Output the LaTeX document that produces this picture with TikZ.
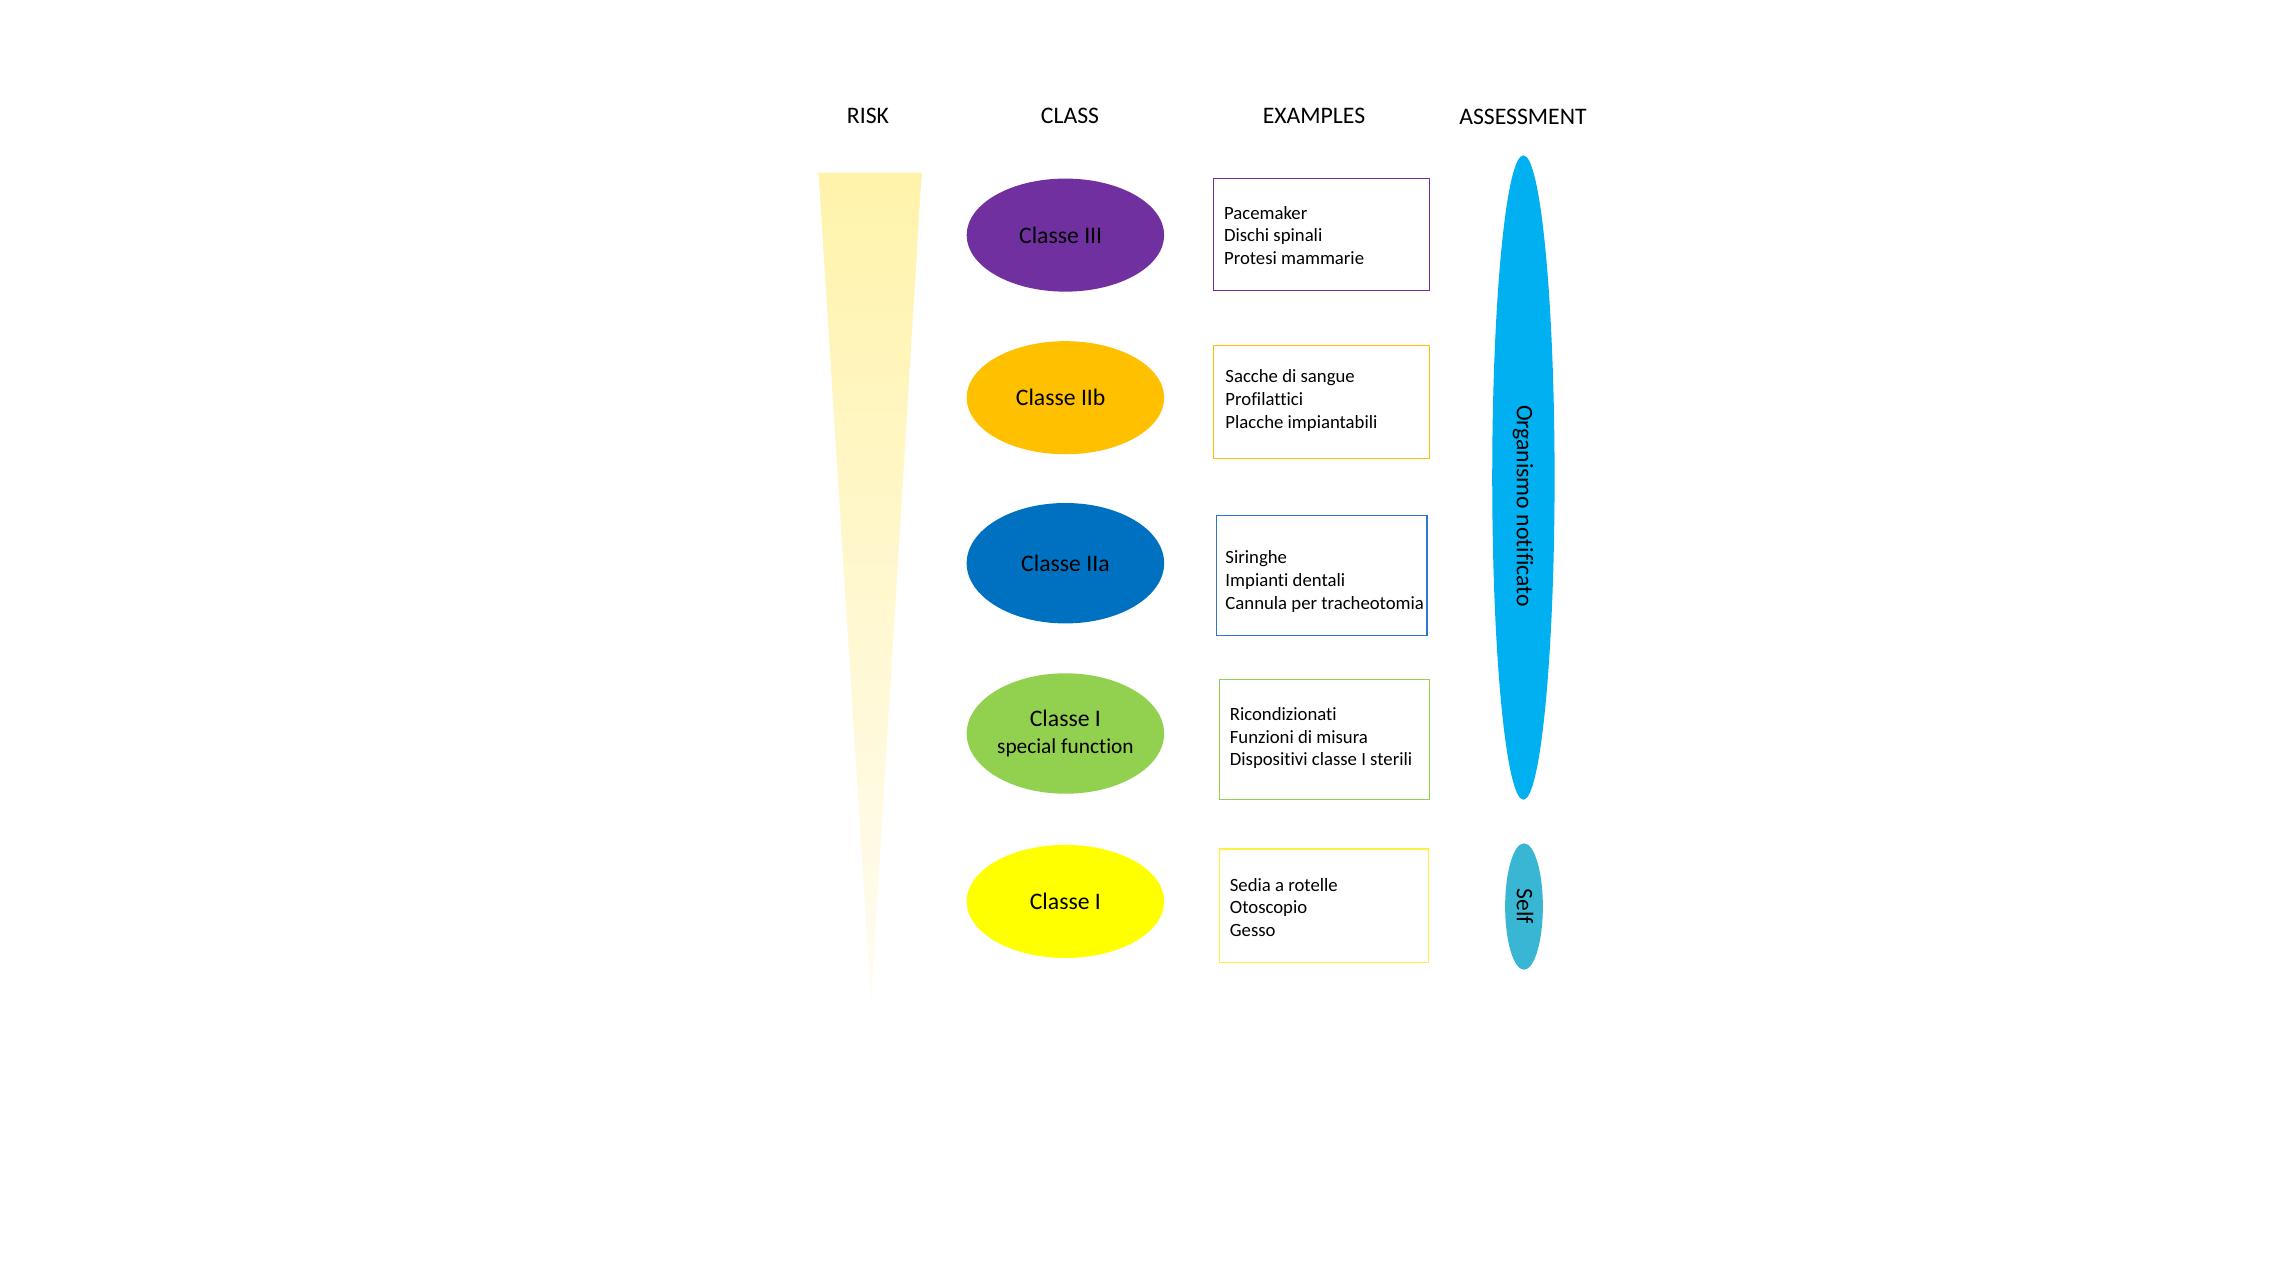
\documentclass[tikz,border=0pt]{standalone}
\usepackage{fontspec}
\setmainfont{Carlito}[Ligatures=NoCommon]
\usetikzlibrary{shapes.geometric}
\definecolor{cpurple}{HTML}{7030A0}
\definecolor{corange}{HTML}{FFC000}
\definecolor{cblue}{HTML}{0070C0}
\definecolor{cgreen}{HTML}{92D050}
\definecolor{cyellow}{HTML}{FFFF00}
\definecolor{cboxblue}{HTML}{2E75D0}
\definecolor{cboxyellow}{HTML}{FFF040}
\definecolor{cnotif}{HTML}{00B0F0}
\definecolor{cself}{HTML}{38B6D3}
\definecolor{risktop}{HTML}{FFF3AB}
\definecolor{riskbot}{HTML}{FFFCF2}
\tikzset{
  header/.style={font=\fontsize{10}{12}\selectfont, inner sep=0pt},
  classell/.style={ellipse, minimum width=83.3pt, minimum height=47.7pt, inner sep=0pt, align=center, font=\fontsize{10}{12}\selectfont},
  exbox/.style={rectangle, draw, line width=0.6pt, inner sep=0pt},
  extext/.style={anchor=west, align=left, inner sep=0pt, font=\fontsize{7.9}{9.5}\selectfont},
  assess/.style={ellipse, inner sep=0pt},
}
\begin{document}
\begin{tikzpicture}[x=0.4218pt, y=-0.4218pt]
\useasboundingbox[fill=white] (0,0) rectangle (2276,1280);

% headers
\node[header] (hrisk) at (868,116) {RISK};
\node[header] (hclass) at (1070,116) {CLASS};
\node[header] (hex) at (1314,116) {EXAMPLES};
\node[header] (hass) at (1523,117) {ASSESSMENT};

% risk triangle
\shade[top color=risktop, bottom color=riskbot] (818.6,172.7) -- (921.7,172.7) -- (871,1002) -- cycle;

% class ellipses
\node[classell, fill=cpurple] (c3) at (1065.4,235.1) {\hspace*{-4pt}Classe III};
\node[classell, fill=corange] (c2b) at (1065.4,397.7) {\hspace*{-4pt}Classe IIb};
\node[classell, fill=cblue, minimum height=50.8pt] (c2a) at (1065.4,563.2) {Classe IIa};
\node[classell, fill=cgreen, minimum height=50.8pt] (c1s) at (1065.4,733.5) {{\fontsize{10}{12}\selectfont Classe I}\\[-0.5pt]{\fontsize{9}{11}\selectfont special function}};
\node[classell, fill=cyellow] (c1) at (1065.4,901.4) {Classe I};

% example boxes
\node[exbox, draw=cpurple, minimum width=216.2*0.4218pt, minimum height=111.8*0.4218pt] (b3) at (1321.6,234.4) {};
\node[exbox, draw=corange, minimum width=216.2*0.4218pt, minimum height=113.2*0.4218pt] (b2b) at (1321.6,402.1) {};
\node[exbox, draw=cboxblue, minimum width=210.4*0.4218pt, minimum height=120.5*0.4218pt] (b2a) at (1321.6,575.5) {};
\node[exbox, draw=cgreen, minimum width=210.4*0.4218pt, minimum height=120.5*0.4218pt] (b1s) at (1324.5,739.5) {};
\node[exbox, draw=cboxyellow, minimum width=209*0.4218pt, minimum height=113.2*0.4218pt] (b1) at (1323.8,905.7) {};

\node[extext] (t3) at (1223.6,235.5) {Pacemaker\\Dischi spinali\\Protesi mammarie};
\node[extext] (t2b) at (1225,400.5) {Sacche di sangue\\Profilattici\\Placche impiantabili};
\node[extext] (t2a) at (1225,581.5) {Siringhe\\Impianti dentali\\Cannula per tracheotomia};
\node[extext] (t1s) at (1229.4,738) {Ricondizionati\\Funzioni di misura\\Dispositivi classe I sterili};
\node[extext] (t1) at (1229.4,907.5) {Sedia a rotelle\\Otoscopio\\Gesso};

% assessment
\node[assess, fill=cnotif, minimum width=26.3pt, minimum height=271.8pt] (notif) at (1523.4,477.5) {};
\node[rotate=-90, inner sep=0pt, font=\fontsize{10}{12}\selectfont] (notift) at (1523,506) {Organismo notificato};
\node[assess, fill=cself, minimum width=15.9pt, minimum height=53.3pt] (self) at (1524,906.5) {};
\node[rotate=-90, inner sep=0pt, font=\fontsize{10}{12}\selectfont] (selft) at (1525,906.5) {Self};
\end{tikzpicture}
\end{document}
